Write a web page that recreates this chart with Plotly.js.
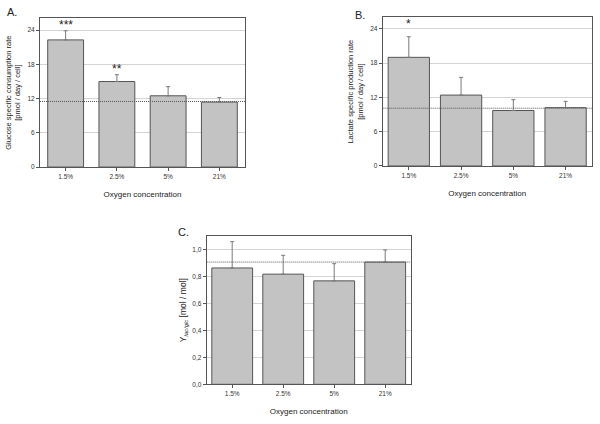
<!DOCTYPE html>
<html>
<head>
<meta charset="utf-8">
<script src="https://cdn.plot.ly/plotly-3.0.1.min.js"></script>
<style>html,body{margin:0;padding:0;background:#fff;}#chart{width:600px;height:424px;}</style>
</head>
<body>
<div id="chart"></div>
<script>
// ---- data ----
const categories = ['1.5%', '2.5%', '5%', '21%'];

const glucoseRate = [22.3, 15.0, 12.5, 11.4];
const glucoseErr  = [1.6, 1.2, 1.6, 0.8];
const glucoseStars = ['***', '**', '', ''];
const glucoseRef = 11.5;

const lactateRate = [19.0, 12.4, 9.7, 10.2];
const lactateErr  = [3.6, 3.1, 1.9, 1.1];
const lactateStars = ['*', '', '', ''];
const lactateRef = 10.1;

const yieldLacGlc = [0.866, 0.82, 0.77, 0.91];
const yieldErr    = [0.196, 0.14, 0.128, 0.09];
const yieldRef = 0.91;

const yTicksRate = [0, 6, 12, 18, 24];
const yTicksYield = [0, 0.2, 0.4, 0.6, 0.8, 1.0];
const yTickTextYield = ['0,0', '0,2', '0,4', '0,6', '0,8', '1,0'];

// ---- style ----
const FONT = 'Liberation Sans, Arial, sans-serif';
const barFill = '#c3c3c3';
const barLine = '#555555';
const errColor = '#7a7a7a';

function barTrace(vals, errs, xa, ya, w) {
  return {
    type: 'bar', x: categories, y: vals, xaxis: xa, yaxis: ya, width: w,
    marker: {color: barFill, line: {color: barLine, width: 1}},
    error_y: {type: 'data', symmetric: false, array: errs,
              arrayminus: errs.map(() => 0), color: errColor, thickness: 1, width: 2},
    hoverinfo: 'skip', showlegend: false
  };
}

const data = [
  barTrace(glucoseRate, glucoseErr, 'x', 'y', 0.7),
  barTrace(lactateRate, lactateErr, 'x2', 'y2', 0.79),
  barTrace(yieldLacGlc, yieldErr, 'x3', 'y3', 0.8)
];

function xAxis(domain, anchor) {
  return {
    domain: domain, anchor: anchor, type: 'category',
    showline: true, linecolor: '#555', linewidth: 1, mirror: true,
    ticks: 'outside', ticklen: 3, tickcolor: '#555',
    tickfont: {family: FONT, size: 6.5, color: '#333'},
    showgrid: false, zeroline: false, fixedrange: true,
    title: {text: 'Oxygen concentration', font: {family: FONT, size: 8, color: '#222'}, standoff: 12}
  };
}
function yAxis(domain, anchor, range, tickvals, ticktext, title, tsize, standoff) {
  return {
    domain: domain, anchor: anchor, range: range,
    tickmode: 'array', tickvals: tickvals, ticktext: ticktext,
    showline: true, linecolor: '#555', linewidth: 1, mirror: true,
    ticks: 'outside', ticklen: 3, tickcolor: '#555',
    tickfont: {family: FONT, size: 6.5, color: '#333'},
    showgrid: true, gridcolor: '#d4d4d4', gridwidth: 1, zeroline: false, fixedrange: true,
    title: {text: title, font: {family: FONT, size: tsize, color: '#222'}, standoff: standoff}
  };
}

const refStyle = {color: '#555', width: 1, dash: '1px,1px'};
const shapes = [
  {type: 'line', xref: 'x domain', yref: 'y', x0: 0, x1: 1, y0: glucoseRef, y1: glucoseRef, line: refStyle},
  {type: 'line', xref: 'x2 domain', yref: 'y2', x0: 0, x1: 1, y0: lactateRef, y1: lactateRef, line: refStyle},
  {type: 'line', xref: 'x3 domain', yref: 'y3', x0: 0, x1: 1, y0: yieldRef, y1: yieldRef, line: refStyle}
];

const annotations = [];
categories.forEach((c, i) => {
  if (glucoseStars[i]) annotations.push({xref: 'x', yref: 'y', x: c, y: glucoseRate[i] + glucoseErr[i],
    text: glucoseStars[i], showarrow: false, yanchor: 'middle', yshift: 6,
    font: {family: FONT, size: 12, color: '#222'}});
  if (lactateStars[i]) annotations.push({xref: 'x2', yref: 'y2', x: c, y: lactateRate[i] + lactateErr[i],
    text: lactateStars[i], showarrow: false, yanchor: 'middle', yshift: 13,
    font: {family: FONT, size: 12, color: '#222'}});
});
[['A.', 0.008, 0.972], ['B.', 0.588, 0.965], ['C.', 0.293, 0.452]].forEach(p => {
  annotations.push({xref: 'paper', yref: 'paper', x: p[1], y: p[2], text: p[0], showarrow: false,
    xanchor: 'left', yanchor: 'middle', font: {family: FONT, size: 11, color: '#222'}});
});

const layout = {
  width: 600, height: 424, autosize: false,
  margin: {l: 0, r: 0, t: 0, b: 0},
  paper_bgcolor: '#fff', plot_bgcolor: '#fff',
  font: {family: FONT},
  xaxis: xAxis([0.0667, 0.4083], 'y'),
  yaxis: yAxis([0.606, 0.957], 'x', [0, 26.1], yTicksRate, yTicksRate.map(String),
               'Glucose specific consumption rate<br>[pmol / day / cell]', 7.5, 5),
  xaxis2: xAxis([0.6378, 0.9862], 'y2'),
  yaxis2: yAxis([0.6085, 0.9592], 'x2', [0, 26.0], yTicksRate, yTicksRate.map(String),
               'Lactate specific production rate<br>[pmol / day / cell]', 7.5, 5),
  xaxis3: xAxis([0.3445, 0.6845], 'y3'),
  yaxis3: yAxis([0.0936, 0.4434], 'x3', [0, 1.104], yTicksYield, yTickTextYield,
               'Y<sub><i>lac/glc</i></sub> [mol / mol]', 8.5, 4),
  shapes: shapes,
  annotations: annotations
};

Plotly.newPlot('chart', data, layout, {staticPlot: true, displayModeBar: false});
</script>
</body>
</html>
